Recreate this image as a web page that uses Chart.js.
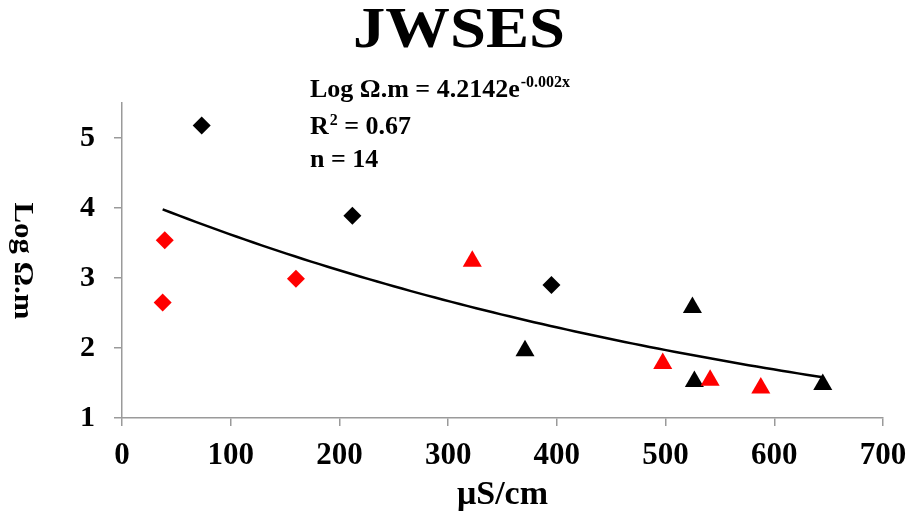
<!DOCTYPE html>
<html>
<head>
<meta charset="utf-8">
<script src="https://cdn.jsdelivr.net/npm/chart.js@4/dist/chart.umd.min.js"></script>
<style>
  html, body { margin: 0; padding: 0; background: #ffffff; }
  #wrap { width: 910px; height: 520px; }
</style>
</head>
<body>
<div id="wrap"><canvas id="chart" width="910" height="520"></canvas></div>
<script>
// ---- labels ----
const chartTitle = 'JWSES';
const xAxisTitle = 'μS/cm';
const yAxisTitle = 'Log Ω.m';
const xTickValues = [0, 100, 200, 300, 400, 500, 600, 700];
const yTickValues = [1, 2, 3, 4, 5];

// ---- observations (conductivity µS/cm vs Log Ω.m) ----
const blackDiamondX = [73.3, 211.9, 395.0];
const blackDiamondY = [5.18, 3.89, 2.90];
const redDiamondX = [37.4, 39.3, 160.0];
const redDiamondY = [2.65, 3.54, 2.99];
const redTriangleX = [322.2, 497.4, 541.0, 587.6];
const redTriangleY = [3.24, 1.78, 1.54, 1.43];
const blackTriangleX = [370.7, 524.7, 526.5, 644.6];
const blackTriangleY = [1.96, 2.58, 1.52, 1.48];

// ---- exponential fit y = A·e^(k·x) ----
const fitA = 4.2142;
const fitK = -0.00152;
const fitR2 = 0.67;

const toPoints = (xs, ys) => xs.map((x, i) => ({ x: x, y: ys[i] }));

const allX = [].concat(blackDiamondX, redDiamondX, redTriangleX, blackTriangleX);
const sampleCount = allX.length;
const fitMinX = Math.min.apply(null, allX);
const fitMaxX = Math.max.apply(null, allX);
const fitCurve = [];
for (let i = 0; i <= 80; i++) {
  const x = fitMinX + (fitMaxX - fitMinX) * i / 80;
  fitCurve.push({ x: x, y: fitA * Math.exp(fitK * x) });
}

const SERIF = "'Liberation Serif', 'Times New Roman', serif";
const AXIS_GREY = '#9a9a9a';

// draws text stretched along its baseline to a given width
function fillStretched(ctx, text, x, y, width) {
  const natural = ctx.measureText(text).width;
  ctx.save();
  ctx.translate(x, y);
  ctx.scale(width / natural, 1);
  ctx.fillText(text, 0, 0);
  ctx.restore();
}

// Title, fit annotation and the rotated y-axis caption
const annotations = {
  id: 'annotations',
  afterDraw(chart) {
    const ctx = chart.ctx;
    ctx.save();
    ctx.fillStyle = '#000';
    ctx.textBaseline = 'alphabetic';

    ctx.font = 'bold 56px ' + SERIF;
    ctx.textAlign = 'center';
    fillStretched(ctx, chartTitle, 459, 47, 212);

    ctx.textAlign = 'left';
    const x0 = 310;
    const main = 'bold 26px ' + SERIF;
    const sup = 'bold 16px ' + SERIF;

    ctx.font = main;
    const eqText = 'Log Ω.m = ' + fitA.toFixed(4) + 'e';
    ctx.fillText(eqText, x0, 97);
    const eqW = ctx.measureText(eqText).width;
    ctx.font = sup;
    ctx.fillText(fitK.toFixed(3) + 'x', x0 + eqW + 1, 87);

    ctx.font = main;
    ctx.fillText('R', x0, 134);
    const rW = ctx.measureText('R').width;
    ctx.font = sup;
    ctx.fillText('2', x0 + rW + 1, 125);
    const twoW = ctx.measureText('2').width;
    ctx.font = main;
    ctx.fillText(' = ' + fitR2.toFixed(2), x0 + rW + twoW + 1, 134);

    ctx.fillText('n = ' + sampleCount, x0, 167);

    ctx.translate(22, 261);
    ctx.rotate(Math.PI / 2);
    ctx.textAlign = 'center';
    ctx.textBaseline = 'middle';
    ctx.font = 'bold 27px ' + SERIF;
    fillStretched(ctx, yAxisTitle, 0, 0, 117);
    ctx.restore();
  }
};

new Chart(document.getElementById('chart'), {
  type: 'scatter',
  data: {
    datasets: [
      {
        label: 'fit',
        type: 'line',
        data: fitCurve,
        borderColor: '#000',
        borderWidth: 2.5,
        pointRadius: 0,
        fill: false,
        tension: 0,
        order: 5
      },
      {
        label: 'black diamond',
        data: toPoints(blackDiamondX, blackDiamondY),
        pointStyle: 'rectRot',
        pointRadius: 9,
        backgroundColor: '#000',
        borderColor: '#000',
        borderWidth: 0
      },
      {
        label: 'red diamond',
        data: toPoints(redDiamondX, redDiamondY),
        pointStyle: 'rectRot',
        pointRadius: 9,
        backgroundColor: '#ff0000',
        borderColor: '#ff0000',
        borderWidth: 0
      },
      {
        label: 'red triangle',
        data: toPoints(redTriangleX, redTriangleY),
        pointStyle: 'triangle',
        pointRadius: 11,
        backgroundColor: '#ff0000',
        borderColor: '#ff0000',
        borderWidth: 0
      },
      {
        label: 'black triangle',
        data: toPoints(blackTriangleX, blackTriangleY),
        pointStyle: 'triangle',
        pointRadius: 11,
        backgroundColor: '#000',
        borderColor: '#000',
        borderWidth: 0
      }
    ]
  },
  options: {
    responsive: false,
    animation: false,
    devicePixelRatio: 1,
    layout: { padding: { top: 103, right: 27, left: 0, bottom: 0 } },
    plugins: {
      legend: { display: false },
      tooltip: { enabled: false },
      title: { display: false }
    },
    scales: {
      x: {
        type: 'linear',
        position: 'bottom',
        min: xTickValues[0],
        max: xTickValues[xTickValues.length - 1],
        afterBuildTicks(scale) { scale.ticks = xTickValues.map(v => ({ value: v })); },
        afterFit(scale) {
          scale.height = 102;
          scale.paddingLeft = 0;
          scale.paddingRight = 0;
        },
        ticks: {
          stepSize: 100,
          color: '#000',
          padding: 11,
          maxRotation: 0,
          autoSkip: false,
          font: { family: SERIF, size: 31, weight: 'bold' }
        },
        grid: {
          drawOnChartArea: false,
          drawTicks: true,
          tickLength: 8,
          color: AXIS_GREY,
          lineWidth: 1.5
        },
        border: { display: true, color: AXIS_GREY, width: 1.5 },
        title: {
          display: true,
          text: xAxisTitle,
          color: '#000',
          font: { family: SERIF, size: 34, weight: 'bold' },
          padding: { top: 0, bottom: 4 }
        }
      },
      y: {
        type: 'linear',
        min: 1,
        max: 5.5,
        afterBuildTicks(scale) { scale.ticks = yTickValues.map(v => ({ value: v })); },
        afterFit(scale) {
          scale.width = 122;
          scale.paddingTop = 0;
          scale.paddingBottom = 0;
        },
        ticks: {
          stepSize: 1,
          includeBounds: false,
          color: '#000',
          padding: 19,
          font: { family: SERIF, size: 30, weight: 'bold' }
        },
        grid: {
          drawOnChartArea: false,
          drawTicks: true,
          tickLength: 8,
          color: AXIS_GREY,
          lineWidth: 1.5
        },
        border: { display: true, color: AXIS_GREY, width: 1.5 }
      }
    }
  },
  plugins: [annotations]
});
</script>
</body>
</html>
